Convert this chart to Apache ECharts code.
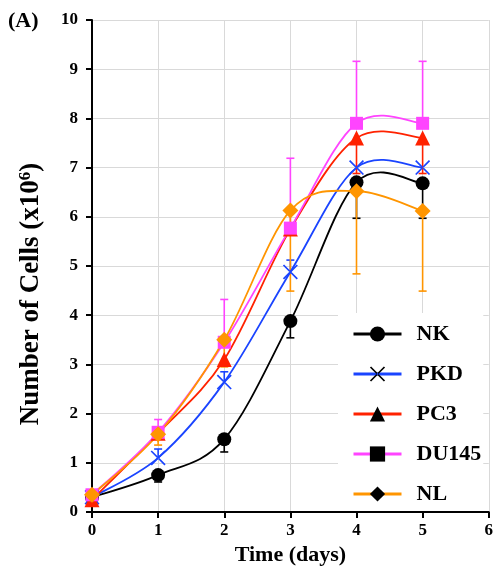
<!DOCTYPE html>
<html>
<head>
<meta charset="utf-8">
<script src="https://cdn.jsdelivr.net/npm/echarts@6/dist/echarts.min.js"></script>
<style>html,body{margin:0;padding:0;background:#fff}#c{width:496px;height:575px}</style>
</head>
<body>
<div id="c"></div>
<script>
// ---- data ----
var days = [0, 1, 2, 3, 4, 5];
var seriesNames = ['NK', 'PKD', 'PC3', 'DU145', 'NL'];
var nk    = [0.30, 0.75, 1.48, 3.88, 6.70, 6.68];
var pkd   = [0.30, 1.10, 2.64, 4.88, 7.00, 7.00];
var pc3   = [0.25, 1.60, 3.10, 5.75, 7.60, 7.60];
var du145 = [0.35, 1.62, 3.45, 5.77, 7.90, 7.90];
var nl    = [0.35, 1.58, 3.50, 6.13, 6.52, 6.12];
// far end of each drawn error bar (one-sided, as visible)
var nkErr    = [null, 0.61, 1.22, 3.54, 5.97, 5.97];
var pkdErr   = [null, 1.28, 2.85, 5.12, null, null];
var pc3Err   = [null, null, null, null, 6.88, 6.88];
var du145Err = [null, 1.88, 4.32, 7.19, 9.16, 9.16];
var nlErr    = [null, 1.36, 2.95, 4.49, 4.84, 4.49];
var xTicks = [0, 1, 2, 3, 4, 5, 6];
var yTicks = [0, 1, 2, 3, 4, 5, 6, 7, 8, 9, 10];

var FONT = 'Liberation Serif';
var xPath = 'path://M0,8L8,0L100,92L92,100Z M92,0L0,92L8,100L100,8Z';
var styles = [
  {color: '#000000', symbol: 'circle', size: 14},
  {color: '#1a44ff', symbol: xPath, size: 15},
  {color: '#ff2200', symbol: 'triangle', size: 15},
  {color: '#ff44ff', symbol: 'rect', size: 13},
  {color: '#ff9500', symbol: 'diamond', size: 16}
];
var vals = [nk, pkd, pc3, du145, nl];
var errs = [nkErr, pkdErr, pc3Err, du145Err, nlErr];

var series = [];
// error bars
vals.forEach(function (v, k) {
  var color = styles[k].color;
  var data = [];
  days.forEach(function (d, i) { if (errs[k][i] != null) data.push([d, v[i], errs[k][i]]); });
  series.push({
    name: seriesNames[k] + ' err', type: 'custom', z: 1, silent: true,
    data: data,
    renderItem: function (params, api) {
      var x = api.value(0), m = api.value(1), e = api.value(2);
      var p0 = api.coord([x, m]), p1 = api.coord([x, e]);
      var st = {stroke: color, lineWidth: 1.6};
      return {type: 'group', children: [
        {type: 'line', shape: {x1: p0[0], y1: p0[1], x2: p1[0], y2: p1[1]}, style: st},
        {type: 'line', shape: {x1: p1[0] - 4, y1: p1[1], x2: p1[0] + 4, y2: p1[1]}, style: st}
      ]};
    }
  });
});
// smoothed curves (Excel-style Catmull-Rom through the data points, mapped by the axes)
vals.forEach(function (v, k) {
  var color = styles[k].color;
  series.push({
    name: seriesNames[k] + ' curve', type: 'custom', z: 2 + k, silent: true,
    data: days.map(function (d, i) { return [d, v[i]]; }),
    renderItem: function (params, api) {
      if (params.dataIndex !== 0) return {type: 'group', children: []};
      var P = days.map(function (d, i) { return api.coord([d, v[i]]); });
      var n = P.length, s = 'M' + P[0][0] + ',' + P[0][1];
      for (var i = 0; i < n - 1; i++) {
        var a = P[Math.max(i - 1, 0)], b = P[i], c = P[i + 1], d = P[Math.min(i + 2, n - 1)];
        var c1x = b[0] + (c[0] - a[0]) / 6, c1y = b[1] + (c[1] - a[1]) / 6;
        var c2x = c[0] - (d[0] - b[0]) / 6, c2y = c[1] - (d[1] - b[1]) / 6;
        s += 'C' + c1x + ',' + c1y + ',' + c2x + ',' + c2y + ',' + c[0] + ',' + c[1];
      }
      return {type: 'path', shape: {pathData: s}, style: {stroke: color, fill: null, lineWidth: 1.8}};
    }
  });
});
// markers (line series used for symbols and the legend)
vals.forEach(function (v, k) {
  series.push({
    name: seriesNames[k], type: 'line', z: 8 + k,
    data: days.map(function (d, i) { return [d, v[i]]; }),
    symbol: styles[k].symbol, symbolSize: styles[k].size,
    showAllSymbol: true,
    lineStyle: {color: styles[k].color, width: 1.8, opacity: 0},
    itemStyle: {color: styles[k].color, borderWidth: 0},
    emphasis: {disabled: true}
  });
});

var chart = echarts.init(document.getElementById('c'), null, {renderer: 'canvas'});
chart.setOption({
  animation: false,
  backgroundColor: '#fff',
  grid: {left: 92, right: 4, top: 20, bottom: 63},
  xAxis: {
    type: 'value', min: 0, max: 6, interval: 1,
    name: 'Time (days)', nameLocation: 'middle', nameGap: 32,
    nameTextStyle: {fontFamily: FONT, fontWeight: 'bold', fontSize: 22, color: '#000'},
    axisLine: {lineStyle: {color: '#000', width: 2}},
    axisTick: {show: true, length: 6, lineStyle: {color: '#000', width: 2}},
    axisLabel: {fontFamily: FONT, fontWeight: 'bold', fontSize: 17, color: '#000', margin: 10,
      formatter: function (v) { return xTicks.indexOf(v) >= 0 ? String(v) : ''; }},
    splitLine: {show: true, lineStyle: {color: '#d9d9d9', width: 1}}
  },
  yAxis: {
    type: 'value', min: 0, max: 10, interval: 1,
    name: '{a|Number of Cells (x10}{s|6}{a|)}', nameLocation: 'middle', nameGap: 46,
    nameTextStyle: {
      padding: [0, 56, 0, 0],
      rich: {
        a: {fontFamily: FONT, fontWeight: 'bold', fontSize: 27, color: '#000'},
        s: {fontFamily: FONT, fontWeight: 'bold', fontSize: 17, color: '#000', padding: [0, 0, 12, 0]}
      }
    },
    axisLine: {show: true, lineStyle: {color: '#000', width: 2}},
    axisTick: {show: true, length: 6, lineStyle: {color: '#000', width: 2}},
    axisLabel: {fontFamily: FONT, fontWeight: 'bold', fontSize: 17, color: '#000', margin: 14,
      formatter: function (v) { return yTicks.indexOf(v) >= 0 ? String(v) : ''; }},
    splitLine: {show: true, lineStyle: {color: '#d9d9d9', width: 1}}
  },
  legend: {
    orient: 'vertical', left: 338, top: 313,
    itemWidth: 48, itemHeight: 19, itemGap: 18,
    backgroundColor: '#fff', padding: [10, 2, 6, 14],
    textStyle: {fontFamily: FONT, fontWeight: 'bold', fontSize: 22, color: '#000', padding: [0, 0, 0, 10]},
    itemStyle: {color: '#000', borderWidth: 0},
    lineStyle: {width: 3, opacity: 1},
    selectedMode: false,
    data: seriesNames
  },
  graphic: [{
    type: 'text', left: 8, top: 10,
    style: {text: '(A)', fontFamily: FONT, fontWeight: 'bold', fontSize: 22, fill: '#000'}
  }],
  series: series
});
</script>
</body>
</html>
